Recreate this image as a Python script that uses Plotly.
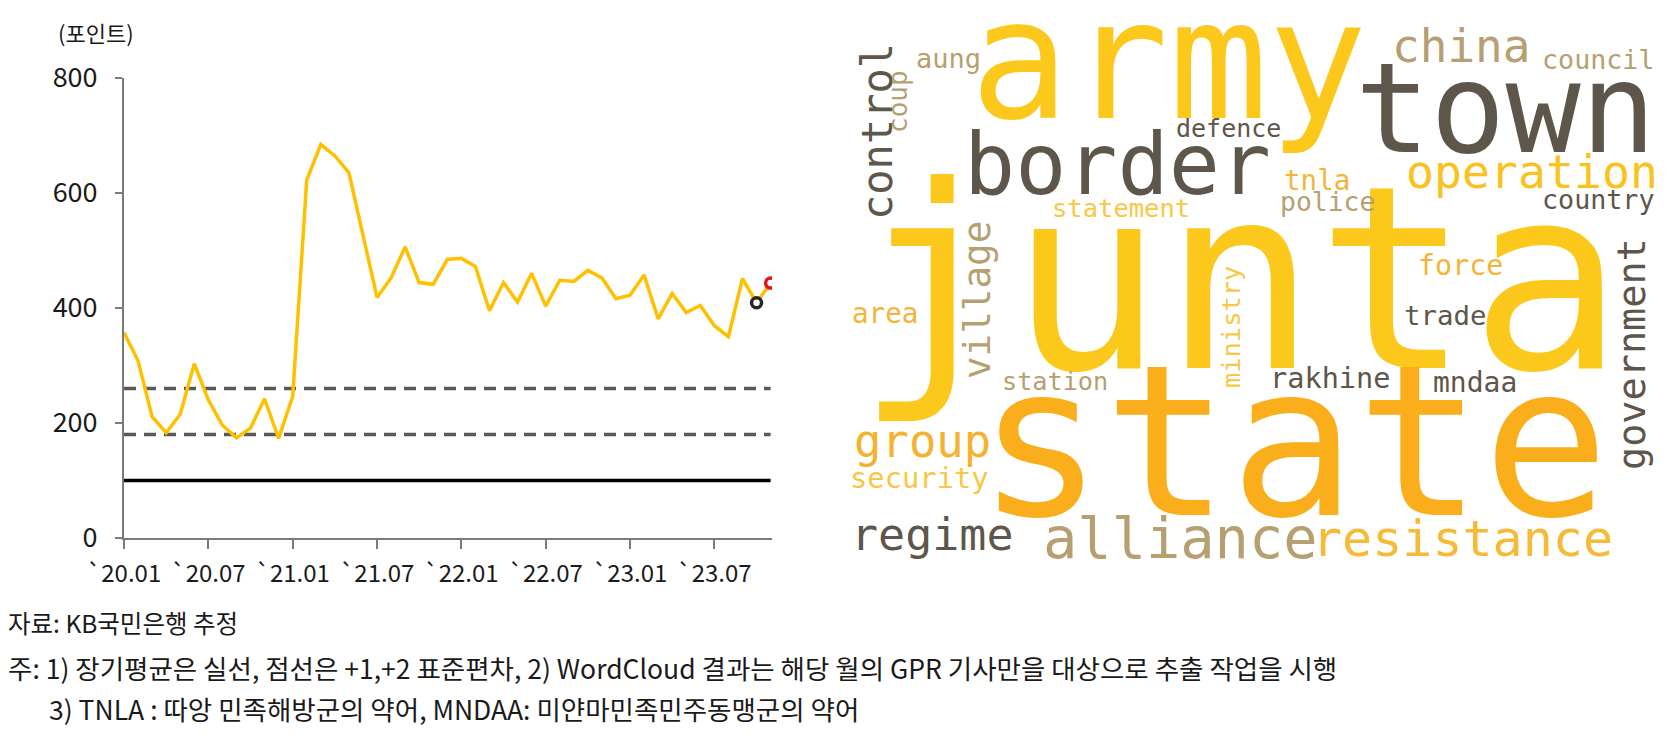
# myanmar_gpr_chart.py
import plotly.graph_objects as go

# monthly GPR index for Myanmar, 2020.01 ~ 2023.11
months = [f"`{y % 100:02d}.{m:02d}" for y in range(2020, 2024) for m in range(1, 13)][:47]
gpr_index = [357, 308, 211, 183, 215, 303, 240, 196, 174, 191, 242, 173,
             246, 622, 684, 664, 635, 525, 418, 452, 506, 444, 441, 484,
             486, 472, 395, 444, 410, 460, 403, 448, 446, 465, 452, 416,
             422, 457, 381, 425, 392, 404, 369, 350, 451, 409, 443]
long_term_mean = 100
sd_levels = [180, 260]  # +1, +2 std dev
prev_month = "`23.10"
last_month = "`23.11"
tick_months = ["`20.01", "`20.07", "`21.01", "`21.07", "`22.01", "`22.07", "`23.01", "`23.07"]
y_ticks = [0, 200, 400, 600, 800]

# word cloud terms (GPR articles of the month)
cloud_words = ["junta", "state", "army", "town", "border", "operation", "china",
               "alliance", "resistance", "group", "regime", "control", "government",
               "village", "council", "aung", "coup", "defence", "tnla", "police",
               "statement", "country", "force", "area", "trade", "station", "rakhine",
               "mndaa", "security", "ministry"]

W, H = 1676, 737
OFF = 8  # page body margin, positions below are in screen pixels

YELLOW = "#FCC81C"
ORANGE = "#FAAE1B"
DARK = "#5E564A"
TAN = "#B69F70"
LORANGE = "#F4B537"
LYELLOW = "#F8C743"

# placement of each word: (px center x, px center y, font size, angle, colour)
cloud_layout = {
    "junta": (1240, 279, 255, 0, YELLOW),
    "state": (1293, 442, 210, 0, ORANGE),
    "army": (1168, 61, 165, 0, YELLOW),
    "town": (1505, 109, 125, 0, DARK),
    "border": (1117, 164, 85, 0, DARK),
    "operation": (1532, 172, 46.5, 0, "#F9C21E"),
    "china": (1461, 46, 46, 0, TAN),
    "alliance": (1180, 538, 57, 0, TAN),
    "resistance": (1462, 539, 50, 0, "#F6BA36"),
    "group": (922, 441, 45.6, 0, "#F5B22E"),
    "regime": (932, 534, 45, 0, DARK),
    "control": (877, 132, 42, -90, DARK),
    "government": (1631, 354, 38.5, -90, DARK),
    "village": (977, 300, 37.6, -90, TAN),
    "council": (1598, 59, 26.7, 0, TAN),
    "aung": (948, 58, 27, 0, TAN),
    "coup": (898, 102, 26, -90, TAN),
    "defence": (1228, 128, 25, 0, DARK),
    "tnla": (1317, 180, 27.6, 0, LORANGE),
    "police": (1327, 201, 26.4, 0, TAN),
    "statement": (1121, 208, 25.5, 0, LYELLOW),
    "country": (1598, 199, 26.7, 0, DARK),
    "force": (1460, 265, 28.4, 0, LORANGE),
    "area": (885, 313, 27.6, 0, LORANGE),
    "trade": (1445, 315, 27.4, 0, DARK),
    "station": (1055, 381, 25.2, 0, TAN),
    "rakhine": (1330, 378, 28.6, 0, DARK),
    "mndaa": (1475, 382, 28, 0, DARK),
    "security": (919, 478, 28.8, 0, LYELLOW),
    "ministry": (1231, 327, 25.4, -90, LYELLOW),
}

footnotes = [
    ("자료: KB국민은행 추정", 6, 622, 24.5),
    ("주: 1) 장기평균은 실선, 점선은 +1,+2 표준편차, 2) WordCloud 결과는 해당 월의 GPR 기사만을 대상으로 추출 작업을 시행", 6, 667, 26.5),
    ("3) TNLA : 따앙 민족해방군의 약어, MNDAA: 미얀마민족민주동맹군의 약어", 47, 708, 26.5),
]

KR_FONT = "Noto Sans CJK KR, sans-serif"


def px(x):
    return (x - OFF) / W


def py(y):
    return 1 - (y - OFF) / H


def main():
    fig = go.Figure()

    # reference lines: long-term mean (solid), +1/+2 sd (dashed)
    fig.add_trace(go.Scatter(x=months, y=[long_term_mean] * len(months), mode="lines",
                             line=dict(color="#000000", width=3.5)))
    for lvl in sd_levels:
        fig.add_trace(go.Scatter(x=months, y=[lvl] * len(months), mode="lines",
                                 line=dict(color="#595959", width=3.5, dash="12px,8px")))

    # GPR index
    fig.add_trace(go.Scatter(x=months, y=gpr_index, mode="lines",
                             line=dict(color="#FFC000", width=3.5)))

    # highlight last two months
    i_prev = months.index(prev_month)
    i_last = months.index(last_month)
    fig.add_trace(go.Scatter(x=[prev_month], y=[gpr_index[i_prev]], mode="markers",
                             marker=dict(size=10, color="white",
                                         line=dict(color="#262626", width=3.5))))
    fig.add_trace(go.Scatter(x=[last_month], y=[gpr_index[i_last]], mode="markers",
                             marker=dict(size=10, color="white",
                                         line=dict(color="#E3141B", width=3.5))))

    axis_col = "#7A7A7A"
    fig.update_xaxes(type="category", domain=[px(124), px(772)], range=[0, 46.1],
                     tickvals=tick_months, ticktext=tick_months, tickangle=0,
                     automargin=False,
                     showline=True, linecolor=axis_col, linewidth=2,
                     ticks="outside", ticklen=9, tickwidth=2, tickcolor=axis_col,
                     ticklabelstandoff=4,
                     showgrid=False, zeroline=False,
                     tickfont=dict(family=KR_FONT, size=24, color="#1a1a1a"))
    fig.update_yaxes(domain=[py(538), py(77.7)], range=[0, 800],
                     tickvals=y_ticks, automargin=False,
                     showline=True, linecolor=axis_col, linewidth=2,
                     ticks="outside", ticklen=7, tickwidth=2, tickcolor=axis_col,
                     ticklabelstandoff=12,
                     showgrid=False, zeroline=False,
                     tickfont=dict(family=KR_FONT, size=27, color="#1a1a1a"))

    annotations = [dict(text="(포인트)", x=px(96), y=py(32), xref="paper", yref="paper",
                        showarrow=False, xanchor="center", yanchor="middle",
                        font=dict(family=KR_FONT, size=22, color="#1a1a1a"))]

    # word cloud
    for w in cloud_words:
        cx, cy, fs, ang, col = cloud_layout[w]
        annotations.append(dict(text=w, x=px(cx), y=py(cy), xref="paper", yref="paper",
                                showarrow=False, xanchor="center", yanchor="middle",
                                textangle=ang,
                                font=dict(family="DejaVu Sans Mono", size=fs, color=col)))

    # source and notes
    for txt, tx, ty, fs in footnotes:
        annotations.append(dict(text=txt, x=px(tx), y=py(ty), xref="paper", yref="paper",
                                showarrow=False, xanchor="left", yanchor="middle",
                                font=dict(family=KR_FONT, size=fs, color="#1a1a1a")))

    fig.update_layout(width=W, height=H, margin=dict(l=0, r=0, t=0, b=0, autoexpand=False),
                      plot_bgcolor="white", paper_bgcolor="white",
                      showlegend=False, annotations=annotations)

    fig.write_html("out.html")
    print("Saved chart: out.html")


if __name__ == "__main__":
    main()
